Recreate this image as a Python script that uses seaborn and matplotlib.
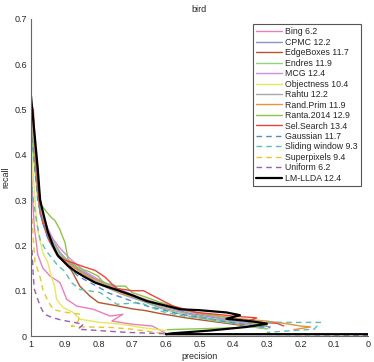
import matplotlib
matplotlib.use("Agg")
import matplotlib.pyplot as plt
import seaborn as sns

# method names as in the legend
methods = ["Bing 6.2", "CPMC 12.2", "EdgeBoxes 11.7", "Endres 11.9", "MCG 12.4",
           "Objectness 10.4", "Rahtu 12.2", "Rand.Prim 11.9", "Ranta.2014 12.9",
           "Sel.Search 13.4", "Gaussian 11.7", "Sliding window 9.3",
           "Superpixels 9.4", "Uniform 6.2", "LM-LLDA 12.4"]

# precision / recall points
bing_p = [1.0, 0.995, 0.99, 0.98, 0.965, 0.943, 0.914, 0.894, 0.864, 0.815, 0.765, 0.727, 0.76, 0.70, 0.64, 0.60]
bing_r = [0.39, 0.30, 0.24, 0.18, 0.15, 0.132, 0.118, 0.081, 0.066, 0.059, 0.044, 0.048, 0.033, 0.026, 0.022, 0.006]

cpmc_p = [1.0, 0.99, 0.98, 0.965, 0.95, 0.935, 0.915, 0.89, 0.86, 0.83, 0.80, 0.77, 0.73, 0.69, 0.65, 0.61, 0.57, 0.53, 0.49, 0.45, 0.41, 0.37, 0.33, 0.29]
cpmc_r = [0.50, 0.42, 0.34, 0.27, 0.235, 0.21, 0.185, 0.165, 0.148, 0.135, 0.122, 0.11, 0.097, 0.085, 0.074, 0.066, 0.058, 0.05, 0.045, 0.04, 0.035, 0.03, 0.025, 0.02]

edge_p = [1.0, 0.99, 0.98, 0.965, 0.95, 0.93, 0.905, 0.88, 0.855, 0.825, 0.80, 0.77, 0.74, 0.70, 0.66, 0.62, 0.58, 0.54, 0.50, 0.46, 0.42, 0.38, 0.34, 0.30]
edge_r = [0.47, 0.39, 0.31, 0.25, 0.22, 0.19, 0.165, 0.145, 0.11, 0.088, 0.074, 0.07, 0.066, 0.06, 0.056, 0.05, 0.045, 0.04, 0.036, 0.032, 0.028, 0.024, 0.02, 0.016]

endres_p = [1.0, 0.99, 0.98, 0.965, 0.95, 0.93, 0.91, 0.88, 0.85, 0.82, 0.78, 0.74, 0.70, 0.66, 0.62, 0.58, 0.54, 0.50, 0.46, 0.42, 0.38, 0.34, 0.30]
endres_r = [0.45, 0.38, 0.31, 0.26, 0.23, 0.20, 0.175, 0.155, 0.14, 0.125, 0.112, 0.10, 0.085, 0.075, 0.062, 0.054, 0.045, 0.04, 0.034, 0.03, 0.026, 0.02, 0.016]

mcg_p = [1.0, 0.99, 0.98, 0.968, 0.952, 0.935, 0.915, 0.89, 0.865, 0.835, 0.80, 0.76, 0.72, 0.68, 0.64, 0.60, 0.56, 0.52, 0.48, 0.44, 0.40, 0.36]
mcg_r = [0.49, 0.41, 0.33, 0.27, 0.24, 0.215, 0.195, 0.175, 0.158, 0.14, 0.125, 0.11, 0.098, 0.086, 0.076, 0.066, 0.058, 0.052, 0.046, 0.04, 0.034, 0.028]

obj_p = [1.0, 0.995, 0.99, 0.985, 0.979, 0.965, 0.95, 0.94, 0.93, 0.924, 0.905, 0.875, 0.854, 0.795, 0.73, 0.676, 0.60]
obj_r = [0.44, 0.38, 0.32, 0.27, 0.229, 0.184, 0.162, 0.132, 0.11, 0.081, 0.063, 0.052, 0.037, 0.03, 0.026, 0.019, 0.012]

rahtu_p = [1.0, 0.99, 0.98, 0.965, 0.95, 0.93, 0.91, 0.885, 0.86, 0.83, 0.80, 0.77, 0.73, 0.69, 0.65, 0.61, 0.57, 0.53, 0.49, 0.45, 0.41, 0.37, 0.33]
rahtu_r = [0.48, 0.40, 0.32, 0.26, 0.23, 0.205, 0.18, 0.16, 0.145, 0.13, 0.118, 0.105, 0.092, 0.082, 0.072, 0.062, 0.055, 0.048, 0.042, 0.036, 0.032, 0.026, 0.022]

rprim_p = [1.0, 0.993, 0.985, 0.975, 0.96, 0.945, 0.93, 0.91, 0.88, 0.85, 0.82, 0.79, 0.76, 0.72, 0.68, 0.64, 0.60, 0.55, 0.50, 0.45, 0.40, 0.35, 0.30, 0.25, 0.20, 0.17, 0.22]
rprim_r = [0.51, 0.46, 0.36, 0.28, 0.245, 0.215, 0.19, 0.17, 0.155, 0.14, 0.128, 0.12, 0.105, 0.092, 0.085, 0.075, 0.065, 0.058, 0.05, 0.045, 0.04, 0.036, 0.033, 0.028, 0.022, 0.02, 0.014]

ranta_p = [1.0, 0.99, 0.98, 0.97, 0.955, 0.94, 0.929, 0.915, 0.899, 0.89, 0.86, 0.83, 0.80, 0.786, 0.745, 0.72, 0.70, 0.66, 0.62, 0.58, 0.54, 0.50, 0.45, 0.40, 0.35, 0.30, 0.40, 0.50, 0.596]
ranta_r = [0.46, 0.40, 0.33, 0.29, 0.275, 0.262, 0.255, 0.236, 0.206, 0.169, 0.15, 0.143, 0.132, 0.118, 0.11, 0.11, 0.096, 0.086, 0.075, 0.066, 0.058, 0.05, 0.044, 0.038, 0.03, 0.024, 0.018, 0.016, 0.014]

sel_p = [1.0, 0.993, 0.985, 0.973, 0.96, 0.948, 0.935, 0.924, 0.90, 0.87, 0.84, 0.81, 0.78, 0.76, 0.745, 0.70, 0.666, 0.646, 0.607, 0.578, 0.51, 0.45, 0.40, 0.33, 0.36, 0.27, 0.25]
sel_r = [0.51, 0.50, 0.38, 0.27, 0.24, 0.213, 0.195, 0.18, 0.168, 0.16, 0.152, 0.145, 0.13, 0.115, 0.105, 0.10, 0.10, 0.092, 0.077, 0.066, 0.052, 0.048, 0.044, 0.04, 0.032, 0.028, 0.022]

gauss_p = [1.0, 0.99, 0.98, 0.965, 0.95, 0.93, 0.91, 0.885, 0.86, 0.83, 0.80, 0.77, 0.73, 0.69, 0.65, 0.61, 0.57, 0.53, 0.49, 0.45, 0.41, 0.37, 0.33, 0.29]
gauss_r = [0.46, 0.38, 0.30, 0.25, 0.215, 0.19, 0.17, 0.15, 0.132, 0.12, 0.108, 0.095, 0.085, 0.074, 0.065, 0.058, 0.05, 0.045, 0.04, 0.035, 0.03, 0.026, 0.022, 0.018]

slide_p = [1.0, 0.993, 0.983, 0.973, 0.955, 0.94, 0.92, 0.90, 0.88, 0.855, 0.795, 0.745, 0.676, 0.617, 0.548, 0.45, 0.35, 0.25, 0.141, 0.16, 0.30]
slide_r = [0.35, 0.30, 0.25, 0.213, 0.188, 0.174, 0.155, 0.143, 0.118, 0.103, 0.096, 0.07, 0.074, 0.055, 0.044, 0.036, 0.032, 0.03, 0.03, 0.015, 0.008]

spix_p = [0.997, 0.993, 0.988, 0.975, 0.964, 0.948, 0.933, 0.894, 0.854, 0.86, 0.88, 0.84, 0.765, 0.70, 0.60, 0.0]
spix_r = [0.26, 0.213, 0.162, 0.136, 0.10, 0.075, 0.058, 0.052, 0.048, 0.033, 0.022, 0.02, 0.019, 0.015, 0.005, 0.004]

unif_p = [0.997, 0.993, 0.99, 0.983, 0.973, 0.96, 0.938, 0.909, 0.894, 0.845, 0.86, 0.80, 0.716, 0.60, 0.0]
unif_r = [0.19, 0.13, 0.103, 0.088, 0.066, 0.048, 0.041, 0.035, 0.033, 0.026, 0.015, 0.012, 0.008, 0.005, 0.002]

lm_p = [1.0, 0.99, 0.98, 0.973, 0.96, 0.95, 0.935, 0.92, 0.89, 0.869, 0.84, 0.81, 0.78, 0.75, 0.70, 0.656, 0.60, 0.557, 0.50, 0.42, 0.38, 0.42, 0.34, 0.30, 0.36, 0.47, 0.58, 0.60, 0.0]
lm_r = [0.53, 0.45, 0.37, 0.30, 0.26, 0.23, 0.20, 0.177, 0.155, 0.143, 0.13, 0.118, 0.11, 0.103, 0.09, 0.077, 0.067, 0.059, 0.057, 0.052, 0.046, 0.038, 0.032, 0.027, 0.02, 0.012, 0.006, 0.004, 0.004]

curves = [(bing_p, bing_r), (cpmc_p, cpmc_r), (edge_p, edge_r), (endres_p, endres_r),
          (mcg_p, mcg_r), (obj_p, obj_r), (rahtu_p, rahtu_r), (rprim_p, rprim_r),
          (ranta_p, ranta_r), (sel_p, sel_r), (gauss_p, gauss_r), (slide_p, slide_r),
          (spix_p, spix_r), (unif_p, unif_r), (lm_p, lm_r)]

colors = ["#e97fba", "#908dcc", "#b5542b", "#90d37f", "#d28ce0", "#e8e85c", "#a8a8a8",
          "#e8923c", "#8cc44a", "#e8453c", "#4f8fc7", "#5bbfb3", "#e6c72a", "#9a5fa8", "#000000"]
dashed = [False] * 10 + [True] * 4 + [False]

sns.set_style("white")
plt.rcParams["font.family"] = ["Liberation Sans", "DejaVu Sans"]

fig = plt.figure(figsize=(3.74, 3.62), dpi=100)
ax = fig.add_axes([31 / 374, 26 / 362, 337 / 374, 317 / 362])

for name, (p, r), c, d in zip(methods, curves, colors, dashed):
    lw = 1.6 if c == "#000000" else 1.0
    sns.lineplot(x=p, y=r, sort=False, estimator=None, color=c, lw=lw,
                 linestyle=(0, (4, 3)) if d else "-", label=name, ax=ax)

ax.set_xlim(1, 0)
ax.set_ylim(0, 0.7)
ax.set_xticks([1, 0.9, 0.8, 0.7, 0.6, 0.5, 0.4, 0.3, 0.2, 0.1, 0])
ax.set_xticklabels(["1", "0.9", "0.8", "0.7", "0.6", "0.5", "0.4", "0.3", "0.2", "0.1", "0"])
ax.set_yticks([0, 0.1, 0.2, 0.3, 0.4, 0.5, 0.6, 0.7])
ax.set_yticklabels(["0", "0.1", "0.2", "0.3", "0.4", "0.5", "0.6", "0.7"])
ax.tick_params(direction="in", length=3, width=0.6, color="#555555",
               labelsize=6.5, labelcolor="#262626", pad=3)
for s in ["top", "right"]:
    ax.spines[s].set_visible(False)
for s in ["left", "bottom"]:
    ax.spines[s].set_color("#666666")
    ax.spines[s].set_linewidth(0.8)

ax.set_xlabel("precision", fontsize=6.5, color="#262626", labelpad=2)
ax.set_ylabel("recall", fontsize=6.5, color="#262626", labelpad=3)
ax.set_title("bird", fontsize=6.5, color="#262626", pad=5)

leg = ax.legend(loc="upper right", bbox_to_anchor=(0.979, 0.984), borderaxespad=0,
                fontsize=6.3, handlelength=2.9, handletextpad=0.4, labelspacing=0.17,
                borderpad=0.35, frameon=True, fancybox=False, framealpha=1)
leg.get_frame().set_edgecolor("#555555")
leg.get_frame().set_linewidth(0.8)

fig.savefig("out.png", dpi=100)
